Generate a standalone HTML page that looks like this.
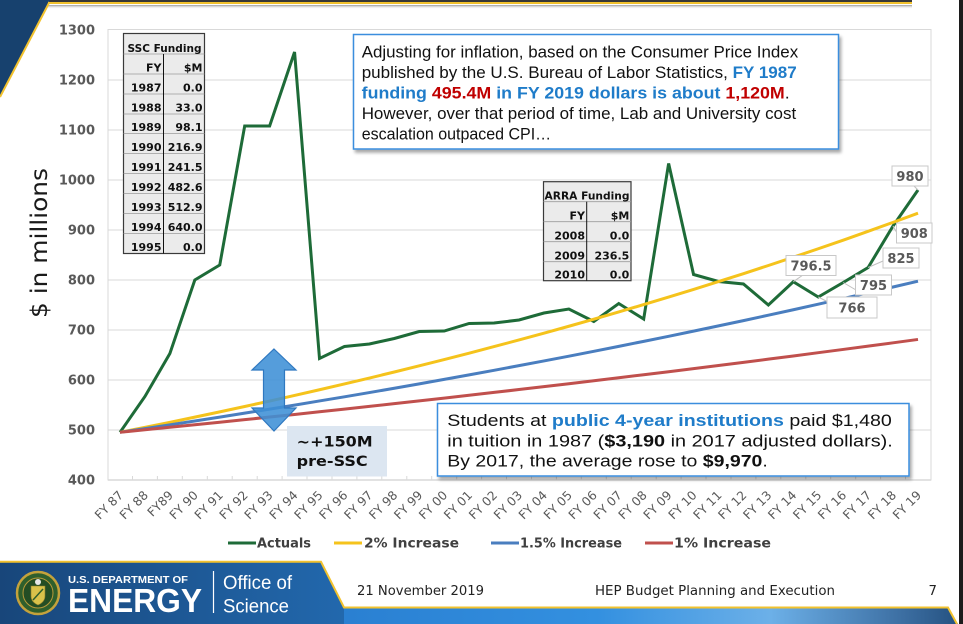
<!DOCTYPE html>
<html><head><meta charset="utf-8"><style>
html,body{margin:0;padding:0;background:#fff;}
svg{display:block;}
</style></head><body>
<svg width="963" height="624" viewBox="0 0 963 624" xmlns="http://www.w3.org/2000/svg">
<defs>
<linearGradient id="fl" x1="0" x2="1" y1="0" y2="0">
<stop offset="0" stop-color="#18467a"/><stop offset="1" stop-color="#2268ad"/>
</linearGradient>
<linearGradient id="fb" x1="0" x2="963" y1="0" y2="0" gradientUnits="userSpaceOnUse">
<stop offset="0" stop-color="#1d5a98"/><stop offset="0.36" stop-color="#2a80d2"/>
<stop offset="0.62" stop-color="#3390e0"/><stop offset="0.8" stop-color="#6cb0e8"/>
<stop offset="0.93" stop-color="#3f72a6"/><stop offset="1" stop-color="#234f7e"/>
</linearGradient>
<linearGradient id="sh" x1="0" x2="0" y1="0" y2="1">
<stop offset="0" stop-color="#9a9a9a"/><stop offset="1" stop-color="#ffffff" stop-opacity="0"/>
</linearGradient>
<filter id="ds" x="-5%" y="-5%" width="115%" height="125%">
<feGaussianBlur in="SourceAlpha" stdDeviation="1.5"/><feOffset dx="2" dy="3"/>
<feComponentTransfer><feFuncA type="linear" slope="0.35"/></feComponentTransfer>
<feMerge><feMergeNode/><feMergeNode in="SourceGraphic"/></feMerge>
</filter>
</defs>

<!-- top decoration -->
<rect x="0" y="0" width="912" height="2.5" fill="#383838"/>
<rect x="48" y="5" width="864" height="4" fill="url(#sh)"/>
<polygon points="0,0 50,0 0,97" fill="#17416e"/>
<line x1="48" y1="3" x2="912" y2="3" stroke="#f2c22e" stroke-width="2"/>
<line x1="49.5" y1="2" x2="0" y2="97" stroke="#f2c22e" stroke-width="2"/>
<rect x="959" y="0" width="4" height="624" fill="#1c1c1c"/>

<!-- plot area -->
<g stroke="#d9d9d9" stroke-width="1" fill="none">
<rect x="108" y="29.5" width="823" height="450.5"/>
<line x1="108" y1="80" x2="931" y2="80"/>
<line x1="108" y1="130" x2="931" y2="130"/>
<line x1="108" y1="180" x2="931" y2="180"/>
<line x1="108" y1="230" x2="931" y2="230"/>
<line x1="108" y1="280" x2="931" y2="280"/>
<line x1="108" y1="330" x2="931" y2="330"/>
<line x1="108" y1="380" x2="931" y2="380"/>
<line x1="108" y1="430" x2="931" y2="430"/>
<line x1="108" y1="480" x2="931" y2="480" stroke-width="1.5"/>
</g>
<g stroke="#d9d9d9" stroke-width="1">
<path d="M132.5 476V480M157.4 476V480M182.3 476V480M207.3 476V480M232.2 476V480M257.2 476V480M282.1 476V480M307 476V480M332 476V480M356.9 476V480M381.8 476V480M406.8 476V480M431.7 476V480M456.7 476V480M481.6 476V480M506.5 476V480M531.5 476V480M556.4 476V480M581.3 476V480M606.3 476V480M631.2 476V480M656.2 476V480M681.1 476V480M706 476V480M731 476V480M755.9 476V480M780.8 476V480M805.8 476V480M830.7 476V480M855.7 476V480M880.6 476V480M905.5 476V480"/>
</g>

<!-- y labels -->
<g font-family="'DejaVu Sans',sans-serif" font-weight="bold" font-size="13" fill="#595959" text-anchor="end">
<text x="95" y="34.7">1300</text><text x="95" y="84.7">1200</text><text x="95" y="134.7">1100</text>
<text x="95" y="184.7">1000</text><text x="95" y="234.7">900</text><text x="95" y="284.7">800</text>
<text x="95" y="334.7">700</text><text x="95" y="384.7">600</text><text x="95" y="434.7">500</text>
<text x="95" y="484.7">400</text>
</g>
<text transform="translate(47,243) rotate(-90)" text-anchor="middle" font-family="'DejaVu Sans',sans-serif" font-size="23" fill="#1a1a1a" textLength="150" lengthAdjust="spacingAndGlyphs">$ in millions</text>

<!-- x labels -->
<g font-family="'DejaVu Sans',sans-serif" font-size="12.3" fill="#595959" text-anchor="end">
<text transform="translate(124,496) rotate(-45)">FY 87</text>
<text transform="translate(148.9,496) rotate(-45)">FY 88</text>
<text transform="translate(173.9,496) rotate(-45)">FY89</text>
<text transform="translate(198.8,496) rotate(-45)">FY 90</text>
<text transform="translate(223.8,496) rotate(-45)">FY 91</text>
<text transform="translate(248.7,496) rotate(-45)">FY 92</text>
<text transform="translate(273.6,496) rotate(-45)">FY 93</text>
<text transform="translate(298.6,496) rotate(-45)">FY 94</text>
<text transform="translate(323.5,496) rotate(-45)">FY 95</text>
<text transform="translate(348.4,496) rotate(-45)">FY 96</text>
<text transform="translate(373.4,496) rotate(-45)">FY 97</text>
<text transform="translate(398.3,496) rotate(-45)">FY 98</text>
<text transform="translate(423.3,496) rotate(-45)">FY 99</text>
<text transform="translate(448.2,496) rotate(-45)">FY 00</text>
<text transform="translate(473.1,496) rotate(-45)">FY 01</text>
<text transform="translate(498.1,496) rotate(-45)">FY 02</text>
<text transform="translate(523,496) rotate(-45)">FY 03</text>
<text transform="translate(547.9,496) rotate(-45)">FY 04</text>
<text transform="translate(572.9,496) rotate(-45)">FY 05</text>
<text transform="translate(597.8,496) rotate(-45)">FY 06</text>
<text transform="translate(622.8,496) rotate(-45)">FY 07</text>
<text transform="translate(647.7,496) rotate(-45)">FY 08</text>
<text transform="translate(672.6,496) rotate(-45)">FY 09</text>
<text transform="translate(697.6,496) rotate(-45)">FY 10</text>
<text transform="translate(722.5,496) rotate(-45)">FY 11</text>
<text transform="translate(747.4,496) rotate(-45)">FY 12</text>
<text transform="translate(772.4,496) rotate(-45)">FY 13</text>
<text transform="translate(797.3,496) rotate(-45)">FY 14</text>
<text transform="translate(822.3,496) rotate(-45)">FY 15</text>
<text transform="translate(847.2,496) rotate(-45)">FY 16</text>
<text transform="translate(872.1,496) rotate(-45)">FY 17</text>
<text transform="translate(897.1,496) rotate(-45)">FY 18</text>
<text transform="translate(922,496) rotate(-45)">FY 19</text>
</g>

<!-- series -->
<polyline fill="none" stroke="#1e6b38" stroke-width="3" stroke-linejoin="miter" points="120,432.3 144.94,396.5 169.88,353.5 194.81,280 219.75,265 244.69,126 269.63,126 294.56,52 319.5,358.5 344.44,346.5 369.38,344 394.31,338.5 419.25,331.5 444.19,331 469.13,323.5 494.06,323 519,320 543.94,313 568.88,309 593.81,321.5 618.75,303.5 643.69,319 668.63,163.5 693.56,274.5 718.5,281.5 743.44,284 768.38,305 793.31,281.75 818.25,297 843.19,282.5 868.13,267.5 893.06,226 918,190"/>
<polyline fill="none" stroke="#f5c31c" stroke-width="3" points="120,432.3 144.94,427.35 169.88,422.3 194.81,417.15 219.75,411.9 244.69,406.5 269.63,401.05 294.56,395.45 319.5,389.75 344.44,383.95 369.38,378.05 394.31,372 419.25,365.85 444.19,359.55 469.13,353.15 494.06,346.6 519,339.95 543.94,333.15 568.88,326.25 593.81,319.15 618.75,311.95 643.69,304.55 668.63,297.05 693.56,289.4 718.5,281.6 743.44,273.65 768.38,265.5 793.31,257.2 818.25,248.75 843.19,240.15 868.13,231.3 893.06,222.35 918,213.2"/>
<polyline fill="none" stroke="#4a7ebf" stroke-width="3" points="120,432.3 144.94,428.6 169.88,424.8 194.81,421 219.75,417.1 244.69,413.15 269.63,409.15 294.56,405.1 319.5,400.95 344.44,396.8 369.38,392.55 394.31,388.25 419.25,383.85 444.19,379.4 469.13,374.9 494.06,370.3 519,365.65 543.94,360.95 568.88,356.2 593.81,351.3 618.75,346.35 643.69,341.35 668.63,336.3 693.56,331.15 718.5,325.9 743.44,320.6 768.38,315.2 793.31,309.75 818.25,304.2 843.19,298.55 868.13,292.8 893.06,287 918,281.15"/>
<polyline fill="none" stroke="#c0504d" stroke-width="3" points="120,432.3 144.94,429.8 169.88,427.3 194.81,424.8 219.75,422.25 244.69,419.65 269.63,417.05 294.56,414.45 319.5,411.75 344.44,409.1 369.38,406.4 394.31,403.65 419.25,400.9 444.19,398.1 469.13,395.25 494.06,392.4 519,389.55 543.94,386.65 568.88,383.75 593.81,380.75 618.75,377.75 643.69,374.75 668.63,371.7 693.56,368.6 718.5,365.5 743.44,362.35 768.38,359.15 793.31,355.95 818.25,352.7 843.19,349.45 868.13,346.15 893.06,342.8 918,339.45"/>

<!-- data labels -->
<g stroke="#bfbfbf" stroke-width="1" fill="none">
<path d="M793.3 281.7L803 275M818.3 297L828 302M843.2 282.5L856 290M868.1 267.5L883 261M893 226L897 233M918 190L914 186"/>
</g>
<g fill="#fff" stroke="#c8c8c8" stroke-width="1">
<rect x="786" y="255.5" width="50" height="20"/>
<rect x="827" y="297" width="50" height="21"/>
<rect x="855.5" y="275" width="36" height="20"/>
<rect x="883" y="248" width="36" height="20"/>
<rect x="896.5" y="223" width="35.5" height="20"/>
<rect x="892" y="166" width="36" height="20"/>
</g>
<g font-family="'DejaVu Sans',sans-serif" font-weight="bold" font-size="13" fill="#595959" text-anchor="middle">
<text x="811" y="270.5">796.5</text>
<text x="852" y="312.5">766</text>
<text x="873.5" y="290">795</text>
<text x="901" y="263">825</text>
<text x="914.3" y="238">908</text>
<text x="910" y="181">980</text>
</g>

<!-- SSC table -->
<g>
<rect x="123.5" y="33.5" width="81" height="220" fill="#ebebeb" stroke="#3a3a3a" stroke-width="1.2"/>
<g stroke="#9c9c9c" stroke-width="0.8">
<path d="M123.5 54H204.5M123.5 74H204.5M123.5 94H204.5M123.5 114H204.5M123.5 133.5H204.5M123.5 153.5H204.5M123.5 173.5H204.5M123.5 193.5H204.5M123.5 213.5H204.5M123.5 233.5H204.5"/>
</g>
<line x1="163.5" y1="54" x2="163.5" y2="253.5" stroke="#111" stroke-width="1"/>
<g font-family="'DejaVu Sans',sans-serif" font-weight="bold" font-size="11" fill="#111" text-anchor="end">
<text x="201.5" y="52" textLength="74" lengthAdjust="spacingAndGlyphs">SSC Funding</text>
<text x="161.5" y="71.5">FY</text><text x="202.5" y="71.5">$M</text>
<text x="161.5" y="91.5">1987</text><text x="202.5" y="91.5">0.0</text>
<text x="161.5" y="111.5">1988</text><text x="202.5" y="111.5">33.0</text>
<text x="161.5" y="131">1989</text><text x="202.5" y="131">98.1</text>
<text x="161.5" y="151">1990</text><text x="202.5" y="151">216.9</text>
<text x="161.5" y="171">1991</text><text x="202.5" y="171">241.5</text>
<text x="161.5" y="191">1992</text><text x="202.5" y="191">482.6</text>
<text x="161.5" y="211">1993</text><text x="202.5" y="211">512.9</text>
<text x="161.5" y="231">1994</text><text x="202.5" y="231">640.0</text>
<text x="161.5" y="251">1995</text><text x="202.5" y="251">0.0</text>
</g>
</g>

<!-- ARRA table -->
<g>
<rect x="543.5" y="181.7" width="87.5" height="99" fill="#ebebeb" stroke="#3a3a3a" stroke-width="1.2"/>
<g stroke="#9c9c9c" stroke-width="0.8">
<path d="M543.5 201.7H631M543.5 221.7H631M543.5 241.7H631M543.5 261.7H631"/>
</g>
<line x1="586.7" y1="201.7" x2="586.7" y2="280.7" stroke="#111" stroke-width="1"/>
<g font-family="'DejaVu Sans',sans-serif" font-weight="bold" font-size="11" fill="#111" text-anchor="end">
<text x="629.5" y="199.5" textLength="85" lengthAdjust="spacingAndGlyphs">ARRA Funding</text>
<text x="585" y="219.3">FY</text><text x="629.3" y="219.3">$M</text>
<text x="585" y="239.3">2008</text><text x="629.3" y="239.3">0.0</text>
<text x="585" y="259.3">2009</text><text x="629.3" y="259.3">236.5</text>
<text x="585" y="278.5">2010</text><text x="629.3" y="278.5">0.0</text>
</g>
</g>

<!-- text box 1 -->
<rect x="353.5" y="34.5" width="485" height="114.5" fill="#fff" stroke="#3b8ede" stroke-width="1.5" filter="url(#ds)"/>
<g font-family="'Liberation Sans',sans-serif" font-size="17" fill="#111">
<text x="361.7" y="57.5" textLength="436.5" lengthAdjust="spacingAndGlyphs">Adjusting for inflation, based on the Consumer Price Index</text>
<text x="361.7" y="78" textLength="435" lengthAdjust="spacingAndGlyphs">published by the U.S. Bureau of Labor Statistics, <tspan font-weight="bold" fill="#1f7cc9">FY 1987</tspan></text>
<text x="361.7" y="98.5" textLength="428" lengthAdjust="spacingAndGlyphs"><tspan font-weight="bold" fill="#1f7cc9">funding </tspan><tspan font-weight="bold" fill="#c00000">495.4M</tspan><tspan font-weight="bold" fill="#1f7cc9"> in FY 2019 dollars is about </tspan><tspan font-weight="bold" fill="#c00000">1,120M</tspan>.</text>
<text x="361.7" y="119" textLength="434.5" lengthAdjust="spacingAndGlyphs">However, over that period of time, Lab and University cost</text>
<text x="361.7" y="139.5" textLength="189.5" lengthAdjust="spacingAndGlyphs">escalation outpaced CPI…</text>
</g>

<!-- text box 2 -->
<rect x="437.5" y="403.5" width="471.5" height="72.5" fill="#fff" stroke="#3b8ede" stroke-width="1.5" filter="url(#ds)"/>
<g font-family="'Liberation Sans',sans-serif" font-size="17" fill="#111">
<text x="447.3" y="426" textLength="444.5" lengthAdjust="spacingAndGlyphs">Students at <tspan font-weight="bold" fill="#1f7cc9">public 4-year institutions</tspan> paid $1,480</text>
<text x="447.3" y="446.3" textLength="445.5" lengthAdjust="spacingAndGlyphs">in tuition in 1987 (<tspan font-weight="bold">$3,190</tspan> in 2017 adjusted dollars).</text>
<text x="447.3" y="466.5" textLength="320.5" lengthAdjust="spacingAndGlyphs">By 2017, the average rose to <tspan font-weight="bold">$9,970</tspan>.</text>
</g>

<!-- ~+150M box -->
<rect x="287" y="426" width="100" height="50.5" fill="#dce6f1"/>
<g font-family="'DejaVu Sans',sans-serif" font-weight="bold" font-size="14.5" fill="#111">
<text x="296.7" y="446.7" textLength="76" lengthAdjust="spacingAndGlyphs">~+150M</text>
<text x="296.7" y="466" textLength="71" lengthAdjust="spacingAndGlyphs">pre-SSC</text>
</g>

<!-- arrow -->
<polygon points="274,349 296,370 284.5,370 284.5,408 296,408 274,431 252,408 263.5,408 263.5,370 252,370" fill="#3d8fd6" fill-opacity="0.88" stroke="#2f78c0" stroke-width="1.2"/>

<!-- legend -->
<g stroke-width="3">
<line x1="228" y1="543" x2="256" y2="543" stroke="#1e6b38"/>
<line x1="334" y1="543" x2="362" y2="543" stroke="#f5c31c"/>
<line x1="491" y1="543" x2="519" y2="543" stroke="#4a7ebf"/>
<line x1="645" y1="543" x2="673" y2="543" stroke="#c0504d"/>
</g>
<g font-family="'DejaVu Sans',sans-serif" font-weight="bold" font-size="13" fill="#404040">
<text x="257" y="547.7" textLength="54" lengthAdjust="spacingAndGlyphs">Actuals</text>
<text x="364" y="547.7" textLength="95" lengthAdjust="spacingAndGlyphs">2% Increase</text>
<text x="520" y="547.7" textLength="102" lengthAdjust="spacingAndGlyphs">1.5% Increase</text>
<text x="674" y="547.7" textLength="97" lengthAdjust="spacingAndGlyphs">1% Increase</text>
</g>

<!-- footer -->
<polygon points="0,608 948,608 958,624 0,624" fill="url(#fb)"/>
<polygon points="0,562 321,562 344,608 344,624 0,624" fill="url(#fl)"/>
<polyline points="0,561.8 321,561.8 344,607.5 948,607.5 957,624" fill="none" stroke="#f2c22e" stroke-width="2"/>

<!-- seal -->
<circle cx="38" cy="593" r="21" fill="#2f5f2c" stroke="#c4a23c" stroke-width="2.5"/>
<circle cx="38" cy="593" r="15" fill="#234d24" stroke="#b89a3a" stroke-width="1"/>
<path d="M31 586H45V596Q45 602 38 605Q31 602 31 596Z" fill="#d9c24a" stroke="#8a7a2a" stroke-width="0.6"/>
<path d="M33 600L43 589" stroke="#2f5f2c" stroke-width="1.5"/>
<circle cx="38" cy="582" r="3" fill="#e6e6e6"/>

<g font-family="'Liberation Sans',sans-serif" fill="#fff">
<text x="68" y="583" font-weight="bold" font-size="10.5" textLength="120" lengthAdjust="spacingAndGlyphs">U.S. DEPARTMENT OF</text>
<text x="68" y="612" font-weight="bold" font-size="33" textLength="134" lengthAdjust="spacingAndGlyphs">ENERGY</text>
<text x="223" y="589" font-size="19" textLength="69" lengthAdjust="spacingAndGlyphs">Office of</text>
<text x="223" y="612.5" font-size="19" textLength="66" lengthAdjust="spacingAndGlyphs">Science</text>
</g>
<line x1="213.5" y1="571" x2="213.5" y2="613" stroke="#fff" stroke-width="1.2"/>

<g font-family="'DejaVu Sans',sans-serif" font-size="13.3" fill="#222">
<text x="357" y="595" textLength="127" lengthAdjust="spacingAndGlyphs">21 November 2019</text>
<text x="595" y="595" textLength="240" lengthAdjust="spacingAndGlyphs">HEP Budget Planning and Execution</text>
<text x="928.5" y="595">7</text>
</g>
</svg>
</body></html>
